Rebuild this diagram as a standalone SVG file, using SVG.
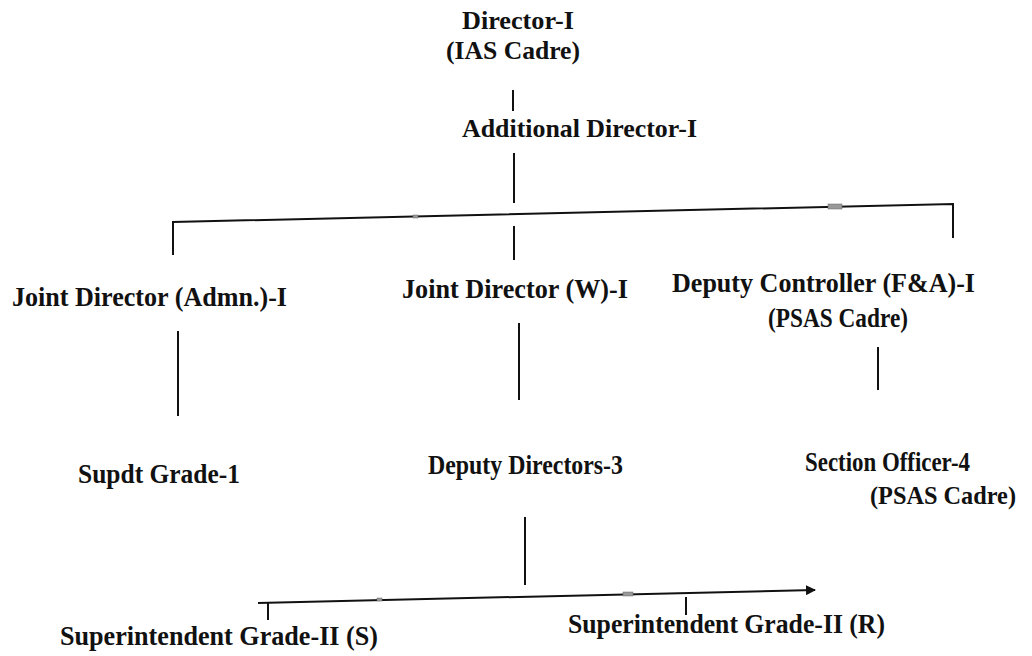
<svg xmlns="http://www.w3.org/2000/svg" width="1032" height="656" viewBox="0 0 1032 656">
<defs>
<style>
text{font-family:'Liberation Serif','Times New Roman',Times,serif;font-weight:700;fill:#111;}
.a{font-size:26px;}
.b{font-size:28px;}
.s{font-size:25px;}
.c{stroke:#111;stroke-width:2;fill:none;}
.m{fill:#999;stroke:#666;stroke-width:0.5;}
</style>
<marker id="ah" viewBox="0 0 10 10" refX="9" refY="5" markerWidth="5" markerHeight="5" orient="auto" markerUnits="strokeWidth">
<path d="M0,0 L10,5 L0,10 z" fill="#111"/>
</marker>
</defs>
<rect width="1032" height="656" fill="#fff"/>
<g id="connectors">
<line class="c" x1="513" y1="90" x2="513" y2="111"/>
<line class="c" x1="514" y1="153" x2="514" y2="203"/>
<polyline class="c" points="173,255 173,222 953,204 953,238" stroke-width="2.5"/>
<line class="c" x1="514" y1="226" x2="514" y2="260"/>
<line class="c" x1="178" y1="331" x2="178" y2="416"/>
<line class="c" x1="519" y1="323" x2="519" y2="400"/>
<line class="c" x1="878" y1="347" x2="878" y2="390"/>
<line class="c" x1="525" y1="517" x2="525" y2="585"/>
<line class="c" x1="258" y1="603" x2="815" y2="590" stroke-width="2.5" marker-end="url(#ah)"/>
<line class="c" x1="268" y1="603" x2="268" y2="620" stroke-width="1.5"/>
<line class="c" x1="686" y1="597" x2="686" y2="615" stroke-width="1.5"/>
<rect class="m" x="413" y="215" width="5" height="3"/>
<rect class="m" x="828" y="204" width="14" height="5"/>
<rect class="m" x="377" y="598" width="5" height="3"/>
<rect class="m" x="623" y="592" width="10" height="4"/>
</g>
<g id="director">
<text class="a" x="462" y="29" textLength="112" lengthAdjust="spacingAndGlyphs">Director-I</text>
<text class="a" x="446" y="59" textLength="134" lengthAdjust="spacingAndGlyphs">(IAS Cadre)</text>
</g>
<g id="additional-director">
<text class="a" x="462" y="137" textLength="235" lengthAdjust="spacingAndGlyphs">Additional Director-I</text>
</g>
<g id="jd-admn">
<text class="b" x="12" y="306" textLength="275" lengthAdjust="spacingAndGlyphs">Joint Director (Admn.)-I</text>
</g>
<g id="jd-w">
<text class="b" x="402" y="298" textLength="226" lengthAdjust="spacingAndGlyphs">Joint Director (W)-I</text>
</g>
<g id="deputy-controller">
<text class="b" x="672" y="292" textLength="303" lengthAdjust="spacingAndGlyphs">Deputy Controller (F&amp;A)-I</text>
<text class="b" x="768" y="327" textLength="140" lengthAdjust="spacingAndGlyphs">(PSAS Cadre)</text>
</g>
<g id="supdt-grade-1">
<text class="b" x="78" y="483" textLength="162" lengthAdjust="spacingAndGlyphs">Supdt Grade-1</text>
</g>
<g id="deputy-directors">
<text class="b" x="428" y="474" textLength="195" lengthAdjust="spacingAndGlyphs">Deputy Directors-3</text>
</g>
<g id="section-officer">
<text class="b" x="805" y="471" textLength="165" lengthAdjust="spacingAndGlyphs">Section Officer-4</text>
<text class="s" x="870" y="504" textLength="146" lengthAdjust="spacingAndGlyphs">(PSAS Cadre)</text>
</g>
<g id="supt-s">
<text class="b" x="60" y="645" textLength="318" lengthAdjust="spacingAndGlyphs">Superintendent Grade-II (S)</text>
</g>
<g id="supt-r">
<text class="b" x="568" y="633" textLength="317" lengthAdjust="spacingAndGlyphs">Superintendent Grade-II (R)</text>
</g>
</svg>
